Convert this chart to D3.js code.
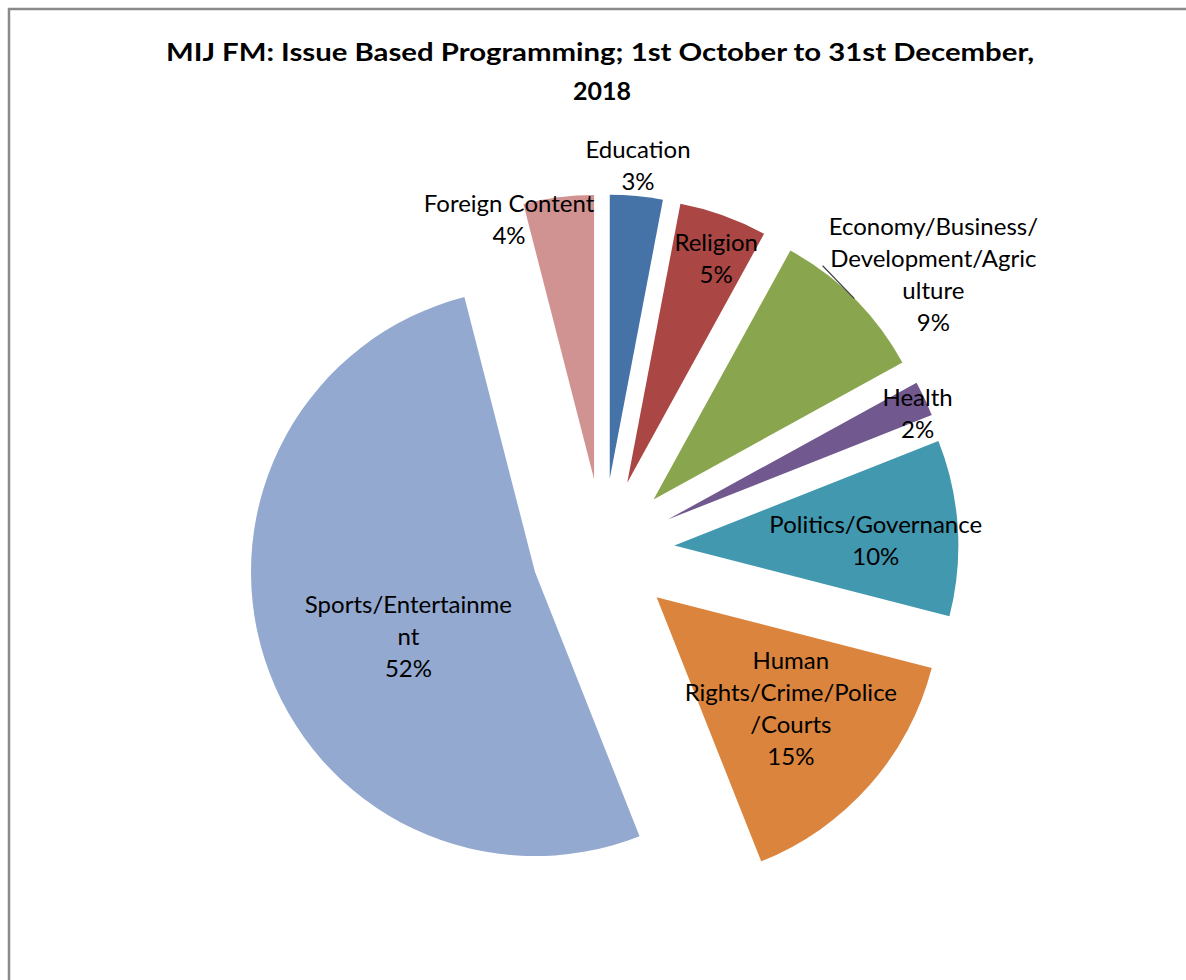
<!DOCTYPE html>
<html>
<head>
<meta charset="utf-8">
<style>
  body { margin: 0; background: #fff; }
  svg { display: block; }
  text { font-family: Lato, "Open Sans", sans-serif; fill: #000; }
</style>
</head>
<body>
<script src="https://d3js.org/d3.v7.min.js"></script>
<script>

var width = 1186,
    height = 980;

// slices, clockwise from 12 o'clock
var categories = ["Education", "Religion", "Economy/Business/Development/Agriculture", "Health",
                  "Politics/Governance", "Human Rights/Crime/Police/Courts", "Sports/Entertainment", "Foreign Content"];
var shares = [3, 5, 9, 2, 10, 15, 52, 4];
var colors = ["#4572A7", "#AA4643", "#89A54E", "#71588F", "#4198AF", "#DB843D", "#93A9CF", "#D19392"];

// label text as wrapped in the chart
var labelLines = [
  ["Education"],
  ["Religion"],
  ["Economy/Business/", "Development/Agric", "ulture"],
  ["Health"],
  ["Politics/Governance"],
  ["Human", "Rights/Crime/Police", "/Courts"],
  ["Sports/Entertainme", "nt"],
  ["Foreign Content"]
];

// label placement: angle nudge (deg) from slice middle, distance as fraction of radius
var labelNudge = [-0.2, 1.4, 5.2, 1.7, 1.7, -1.2, -6, -8.7];
var labelDist = [1.359, 1.102, 1.514, 1.208, 0.961, 0.866, 0.75, 1.208];

var cx = 603, cy = 550,
    radius = 284,
    explode = 71.5,
    lineHeight = 32;

var svg = d3.select("body").append("svg")
    .attr("width", width)
    .attr("height", height);

// chart frame
svg.append("path")
   .attr("d", "M9,980 V9 H1186")
   .attr("fill", "none")
   .attr("stroke", "#8a8a8a")
   .attr("stroke-width", 2.5);

// title
var title = svg.append("text")
   .attr("text-anchor", "middle")
   .style("font-weight", "bold")
   .style("font-size", "25px");
title.append("tspan").attr("x", 600).attr("y", 61)
     .attr("textLength", 868).attr("lengthAdjust", "spacingAndGlyphs")
     .text("MIJ FM: Issue Based Programming; 1st October to 31st December,");
title.append("tspan").attr("x", 602).attr("y", 100).text("2018");

var pie = d3.pie().sort(null).value(function(d) { return d; });
var arc = d3.arc().innerRadius(0).outerRadius(radius);
var slices = pie(shares);

function mid(d) { return (d.startAngle + d.endAngle) / 2; }

var chart = svg.append("g").attr("transform", "translate(" + cx + "," + cy + ")");

chart.selectAll(".slice")
  .data(slices)
  .enter().append("path")
  .attr("class", "slice")
  .attr("d", arc)
  .attr("fill", function(d, i) { return colors[i]; })
  .attr("transform", function(d) {
     var a = mid(d);
     return "translate(" + (Math.sin(a) * explode) + "," + (-Math.cos(a) * explode) + ")";
  });

// data labels
var labelPos = [];
var labels = chart.selectAll(".label")
  .data(slices)
  .enter().append("text")
  .attr("class", "label")
  .attr("text-anchor", "middle")
  .style("font-size", "24px");

labels.each(function(d, i) {
  var a = mid(d) + labelNudge[i] * Math.PI / 180;
  var dist = labelDist[i] * radius;
  var x = Math.sin(a) * dist, y = -Math.cos(a) * dist;
  labelPos.push([x, y]);
  var lines = labelLines[i].concat([shares[i] + "%"]);
  var t = d3.select(this);
  lines.forEach(function(s, k) {
    t.append("tspan")
     .attr("x", x)
     .attr("y", y + (k - (lines.length - 1) / 2) * lineHeight)
     .attr("dy", "0.35em")
     .text(s);
  });
});

// leader line for the economy label
var eco = slices[2];
var ea = mid(eco);
var ex = Math.sin(ea) * (radius + explode), ey = -Math.cos(ea) * (radius + explode);
var box = labels.filter(function(d, i) { return i === 2; }).node().getBBox();
chart.append("line")
  .attr("x1", ex).attr("y1", ey)
  .attr("x2", box.x - 6).attr("y2", labelPos[2][1] - lineHeight * 0.5 + 7)
  .attr("stroke", "#404040")
  .attr("stroke-width", 1.2);

</script>
</body>
</html>
